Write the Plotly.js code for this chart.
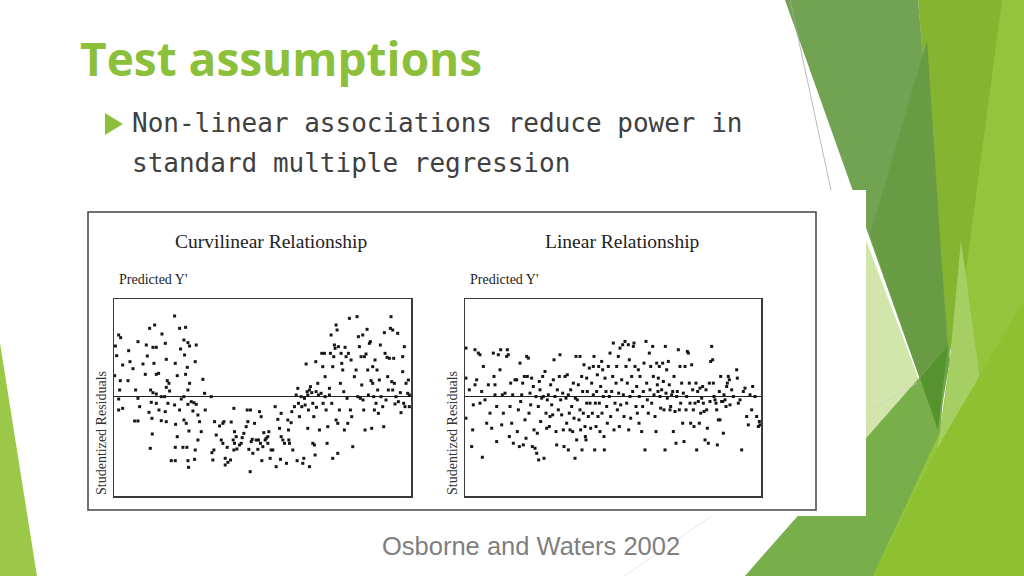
<!DOCTYPE html>
<html>
<head>
<meta charset="utf-8">
<script src="https://cdn.plot.ly/plotly-3.0.1.min.js"></script>
<style>
  html, body { margin: 0; padding: 0; background: #fff; }
  #slide { width: 1024px; height: 576px; }
</style>
</head>
<body>
<div id="slide"></div>
<script>
// predicted Y' (arbitrary units) and studentized residual
const curvilinearPoints = [
  [0.4,1.52],[0.8,1.23],[0.2,0.63],[1.4,1.85],[2.0,1.77],[2.6,0.95],[1.9,0.48],[1.7,0.20],[1.4,-0.07],[1.4,-0.40],
  [2.6,-0.35],[4.4,1.38],[4.8,1.05],[4.2,0.48],[5.7,0.84],[6.5,0.20],[7.2,1.65],[7.2,-0.05],[7.7,-0.30],[6.2,-0.73],
  [7.2,-0.73],[8.7,0.98],[9.4,0.67],[9.7,1.55],[10.0,1.22],[10.7,2.05],[12.2,2.15],[11.7,1.48],[12.7,1.48],[12.0,1.00],
  [12.7,0.67],[13.4,0.70],[11.0,0.20],[11.7,0.12],[12.7,0.08],[11.2,-0.17],[10.5,-0.47],[11.4,-0.65],[10.9,-1.55],[11.5,-1.12],
  [12.7,-0.20],[13.5,-0.40],[14.2,0.00],[14.4,1.88],[15.4,1.60],[15.7,1.12],[16.0,0.48],[16.5,0.40],[15.7,0.28],[16.7,0.17],
  [15.2,0.00],[16.2,-0.20],[15.4,-0.45],[14.2,-0.72],[15.7,-0.75],[18.2,2.42],[18.4,1.00],[19.0,0.63],[19.7,2.05],[20.0,1.43],
  [21.5,2.08],[21.0,1.70],[22.2,1.62],[22.7,1.52],[21.2,1.25],[22.0,0.88],[21.5,0.67],[22.7,0.40],[22.2,0.20],[21.0,0.00],
  [20.2,-0.07],[22.2,-0.23],[23.2,-0.15],[18.2,-0.25],[19.7,-0.40],[21.0,-0.70],[18.5,-0.83],[21.7,-0.80],[22.5,-1.03],[24.7,1.55],
  [24.4,1.05],[24.0,-0.18],[24.7,-0.23],[23.7,-0.43],[25.2,-0.55],[25.7,-0.75],[26.7,0.52],[27.2,0.10],[27.4,-0.40],[26.2,-1.05],
  [25.2,-1.30],[24.4,-1.60],[20.7,-1.52],[21.9,-1.52],[18.4,-1.52],[19.0,-1.20],[17.2,-1.92],[18.4,-1.92],[22.2,-1.92],[22.4,-2.12],
  [24.2,-1.88],
  [29.2,0.00],[29.7,-1.90],[30.2,-0.75],[30.7,-1.15],[30.0,-1.60],[29.4,-1.68],[31.7,-0.88],[32.2,-1.30],[32.7,-0.80],[33.0,-0.75],
  [32.7,-1.40],[33.4,-1.85],[33.4,-2.05],[34.2,-1.97],[35.0,-1.90],[34.0,-1.52],[35.2,-0.76],[36.0,-0.35],[36.2,-1.05],[35.8,-1.30],
  [36.7,-1.20],[36.2,-1.40],[36.0,-1.60],[36.9,-1.57],[37.7,-1.45],[38.2,-1.40],[38.5,-1.23],[39.0,-1.10],[39.7,-0.90],[40.0,-0.40],
  [40.2,-0.75],[41.0,-0.40],[41.2,-1.35],[40.5,-1.58],[41.5,-1.28],[41.7,-1.70],[40.9,-2.25],[42.2,-0.80],[42.7,-1.30],[43.2,-1.58],
  [43.4,-1.30],[43.7,-0.45],[44.2,-0.60],[44.0,-1.40],[44.7,-1.50],[44.4,-1.92],[45.0,-1.08],[45.4,-1.30],[45.7,-1.25],[46.2,-1.20],
  [46.5,-1.05],[46.2,-1.40],[46.9,-1.85],[47.2,-1.60],[47.7,-1.60],[48.4,-0.30],[48.7,-2.10],[49.2,-0.68],[49.7,-0.95],[50.2,-0.50],
  [50.2,-1.20],[50.7,-1.30],[50.0,-1.88],[51.2,-1.40],[51.8,-2.00],[52.2,-0.70],[52.4,-1.00],[52.5,-1.30],[52.7,-1.40],[53.2,-0.78],
  [53.4,-0.45],[53.7,-1.60],[54.2,-0.30],
  [54.7,0.05],[55.2,0.25],[55.4,-0.20],[55.7,-0.60],[55.0,-1.92],[56.2,0.00],[56.4,-0.30],[56.7,-2.00],[57.0,-1.85],[57.2,-0.05],
  [57.4,-0.25],[57.7,0.98],[58.0,0.15],[58.2,0.05],[58.4,-0.40],[58.7,-2.10],[58.2,-0.95],[58.7,0.20],[59.0,0.30],[59.4,0.12],
  [59.7,-0.20],[59.7,-1.40],[60.0,-0.60],[60.2,-1.45],[60.4,-1.75],[60.6,1.05],[60.7,0.15],[60.8,-0.32],[61.2,0.40],[61.4,0.05],
  [61.7,-1.00],[62.2,0.10],[62.4,1.30],[62.7,0.90],[62.8,-0.20],[63.2,1.30],[63.4,0.60],[63.4,0.00],[63.7,-0.40],[64.0,-1.40],
  [64.2,-0.90],[64.7,0.25],[64.7,0.05],[65.0,1.30],[65.2,1.85],[65.4,-0.20],[65.7,0.90],[65.7,-1.85],[66.0,1.20],[66.2,1.55],
  [66.4,1.45],[66.7,2.15],[66.7,-0.70],[67.0,2.00],[67.2,-0.80],[67.2,-1.70],[67.4,1.50],[67.7,-0.40],[68.0,0.40],[68.2,1.30],
  [68.4,1.00],[68.7,0.80],[69.0,0.15],[69.2,-1.00],[69.4,1.48],[69.7,1.20],[70.0,-0.05],[70.2,-0.80],[70.4,1.30],[70.7,2.35],
  [71.0,-0.40],[71.2,1.10],[71.4,-0.60],[71.7,-1.50],[72.2,0.60],[72.7,0.80],[73.0,2.40],[73.2,0.00],[73.4,1.80],[73.7,1.50],
  [74.0,-0.05],[74.2,1.20],[74.4,0.35],[74.7,1.85],[74.8,-0.10],[75.0,-0.40],[75.2,1.20],[75.4,-1.00],[75.7,1.28],[76.0,2.02],
  [76.2,0.80],[76.4,0.05],[76.7,1.60],[77.0,1.65],[77.2,0.48],[77.4,-0.95],[77.7,0.90],[77.7,0.40],[78.0,0.00],[78.2,-0.40],
  [78.4,1.10],[78.7,-0.20],[79.0,0.80],[79.2,0.20],[79.4,-0.50],[79.7,0.50],[80.0,1.55],[80.2,0.00],[80.7,-0.30],[81.0,-0.90],
  [81.2,1.92],[81.4,1.30],[81.7,-0.10],[82.0,1.18],[82.2,0.60],[82.4,0.20],[82.7,1.15],[83.0,2.05],[83.2,2.40],[83.4,0.45],
  [83.7,2.00],[83.7,0.20],[84.0,1.15],[84.2,0.40],[84.4,-0.22],[84.7,0.00],[85.2,1.90],[85.4,-0.15],[86.0,0.12],[86.2,-0.48],
  [86.7,1.20],[86.7,0.75],[87.0,-0.20],[87.2,1.50],[87.4,-0.30],[87.7,0.40],[88.2,0.10],[88.4,0.50],[88.7,0.05],[88.7,-0.30]
];

const linearPoints = [
  [0.3,1.45],[0.3,0.55],[0.3,-0.65],[1.3,0.20],[2.0,-1.50],[2.3,-1.00],[2.5,-0.25],[3.0,1.40],[3.5,0.50],[3.0,0.35],
  [4.0,1.30],[4.5,1.25],[5.0,0.15],[4.5,-0.20],[5.2,-1.82],[5.5,0.90],[6.0,-0.10],[6.5,-0.80],[7.0,0.35],[7.5,-0.50],
  [8.0,-0.95],[8.5,1.30],[8.7,0.60],[9.0,0.35],[9.0,0.05],[9.5,-1.35],[9.5,-0.30],[10.0,1.25],[10.5,0.80],[10.7,1.40],
  [11.0,-0.85],[11.2,0.05],[11.5,-0.50],[12.0,0.10],[12.5,1.20],[12.7,1.40],[13.0,1.25],[13.3,-1.20],[13.5,-0.30],[13.7,0.40],
  [14.0,-0.80],[14.3,0.05],[14.5,-1.40],[15.0,0.50],[15.5,0.50],[15.7,-1.05],[16.0,-0.40],[16.3,-1.50],[16.5,1.00],[16.7,-0.15],
  [17.0,0.05],[17.3,0.40],[17.5,-1.45],[17.8,0.60],[18.0,-0.70],[18.3,-1.25],[18.5,1.20],[18.7,0.60],[19.0,1.15],[19.2,-0.50],
  [19.5,0.10],[19.7,-0.25],[20.0,0.55],[20.2,-1.50],[20.5,0.30],[20.7,-1.00],[21.0,-1.55],[21.3,0.00],[21.5,-1.70],[21.7,-1.10],
  [22.0,-0.30],[22.1,-1.90],[22.3,0.45],[22.5,0.20],[22.7,-0.75],[23.0,-0.05],[23.3,0.60],[23.5,0.00],[23.7,-1.85],[24.0,0.75],
  [24.3,-0.50],[24.5,-0.95],[24.7,-0.10],[25.0,0.05],[25.3,-0.90],[25.5,-0.60],[25.7,0.35],[26.0,-0.25],[26.3,-0.55],[26.5,0.50],
  [26.7,1.10],[27.0,0.00],[27.3,-1.05],[27.5,-1.45],[27.7,0.20],[28.0,-0.40],[28.3,0.60],[28.5,1.25],[28.7,-0.10],[29.0,-0.55],
  [29.3,0.10],[29.5,-1.00],[29.7,-1.50],[30.0,0.60],[30.3,-0.05],[30.5,-0.80],[30.7,0.65],[31.0,0.05],[31.0,-1.60],[31.3,-0.50],
  [31.5,-1.00],[31.7,0.20],[32.0,-0.30],[32.3,-1.05],[32.5,0.40],[32.7,-0.65],[33.0,-1.85],[33.1,-0.05],[33.3,1.20],[33.5,-1.30],
  [33.7,-0.10],[34.0,0.35],[34.2,-0.70],[34.5,1.20],[34.5,-0.40],[34.7,-1.00],[35.0,0.60],[35.1,-1.60],[35.3,0.15],[35.5,-0.50],
  [35.7,0.95],[36.0,-0.90],[36.1,-1.20],[36.3,-1.30],[36.5,0.55],[36.5,-0.20],[36.7,0.15],[37.0,-0.60],[37.3,0.85],[37.5,-0.20],
  [37.7,-0.95],[38.0,0.40],[38.2,-0.50],[38.5,0.90],[38.5,0.05],[38.7,1.20],[38.9,-1.60],[39.1,-0.20],[39.3,-0.90],[39.5,0.15],
  [39.7,0.65],[39.9,-0.60],[40.1,0.90],[40.3,-0.20],[40.5,-1.05],[40.7,0.30],[41.0,1.05],[41.1,-0.50],[41.3,0.80],[41.5,0.00],
  [41.7,-1.20],[41.8,-1.60],[42.0,0.55],[42.3,0.15],[42.5,-0.30],[42.7,-0.80],[43.0,0.90],[43.3,0.00],[43.5,1.30],[43.7,-0.60],
  [44.0,0.15],[44.3,0.60],[44.5,1.60],[44.7,-1.00],[45.0,-0.20],[45.3,0.40],[45.5,0.90],[45.7,-0.40],[46.0,1.20],[46.1,0.10],
  [46.3,-0.90],[46.5,1.45],[46.7,-0.25],[47.0,0.50],[47.3,1.55],[47.5,0.05],[47.7,-0.60],[48.0,1.65],[48.3,0.90],[48.5,-0.20],
  [48.7,0.40],[49.0,1.55],[49.1,-1.00],[49.3,1.10],[49.5,0.00],[49.7,-0.65],[50.0,0.60],[50.3,0.15],[50.5,1.50],[50.7,1.60],
  [51.0,0.90],[51.3,-0.30],[51.5,0.30],[51.7,-0.50],[52.0,0.80],[52.2,-0.80],[52.3,0.00],[52.5,0.60],[53.0,-1.05],[53.3,-0.30],
  [53.5,0.15],[53.7,1.00],[54.0,-1.60],[54.3,1.65],[54.5,0.40],[54.7,-0.10],[55.0,-0.50],[55.3,1.30],[55.5,0.20],[55.7,0.90],
  [56.0,-0.20],[56.3,1.50],[56.5,0.60],[56.7,0.05],[57.0,-0.60],[57.3,-1.05],[57.5,1.00],[57.7,0.35],[57.9,0.15],[58.0,0.55],
  [58.3,0.90],[58.5,0.00],[58.7,-0.35],[59.0,0.20],[59.3,1.00],[59.5,0.45],[59.7,-0.40],[60.0,-1.60],[60.1,1.50],[60.3,0.10],
  [60.5,0.80],[60.7,-0.05],[61.0,1.05],[61.3,0.35],[61.5,-0.40],[61.7,-0.30],[62.0,0.05],[62.3,0.15],[62.5,-1.05],[62.7,0.60],
  [63.0,-0.45],[63.3,-1.40],[63.5,0.00],[63.7,0.15],[64.0,1.40],[64.3,-0.40],[64.5,0.90],[64.7,-0.20],[65.0,0.40],[65.3,-0.80],
  [65.5,0.10],[65.7,-1.35],[66.0,0.90],[66.3,-0.40],[66.5,0.00],[66.7,1.35],[67.0,1.30],[67.3,0.40],[67.5,-0.20],[67.7,-0.80],
  [68.0,0.95],[68.3,0.20],[68.5,-0.40],[68.7,-0.90],[69.0,-0.20],[69.3,0.40],[69.5,-1.60],[69.8,0.15],[70.0,-0.15],[70.3,-0.80],
  [70.5,0.25],[70.7,-0.50],[71.0,-0.05],[71.3,0.30],[71.5,-0.20],[71.7,-0.45],[72.0,-1.30],[72.3,0.20],[72.5,-0.40],[72.7,-0.95],
  [73.0,-1.40],[73.3,0.40],[73.5,-0.15],[73.7,1.05],[74.0,1.50],[74.3,1.10],[74.5,0.40],[74.7,0.00],[75.0,-0.10],[75.3,-0.20],
  [75.5,-0.40],[75.7,-1.45],[76.0,-0.70],[76.3,0.15],[76.5,-0.70],[76.7,0.60],[77.0,-0.15],[77.3,-0.15],[77.5,-1.10],[77.7,0.05],
  [78.0,-0.10],[78.3,-0.30],[78.5,0.30],[78.7,0.40],[79.0,0.60],[79.3,0.50],[79.5,-0.25],[80.0,0.20],[80.5,0.00],[81.5,0.80],
  [81.7,0.55],[82.0,-0.20],[82.5,-0.10],[83.0,-1.60],[83.5,0.15],[84.0,0.25],[84.5,-0.60],[85.0,-0.85],[85.5,0.05],[86.0,-0.40],
  [86.3,0.30],[87.0,0.00],[87.5,-0.60],[88.0,-0.90],[88.3,-0.75],[88.5,-0.85]
];

const panelTitles = ['Curvilinear Relationship', 'Linear Relationship'];
const xLabel = "Predicted Y'";
const yLabel = 'Studentized Residuals';
const slideTitle = 'Test assumptions';
const bulletLines = ['Non-linear associations reduce power in', 'standard multiple regression'];
const citation = 'Osborne and Waters 2002';

// slide pixel -> paper coords (margins are zero so paper == page)
const W = 1024, H = 576;
const px = x => x / W;
const py = y => 1 - y / H;

function poly(pts, color) {
    const d = pts.map((p, i) => (i ? 'L' : 'M') + px(p[0]).toFixed(4) + ',' + py(p[1]).toFixed(4)).join(' ') + ' Z';
    return { type: 'path', xref: 'paper', yref: 'paper', path: d, fillcolor: color, line: { width: 0 }, layer: 'below' };
}
function seg(x0, y0, x1, y1, color, w) {
    return { type: 'line', xref: 'paper', yref: 'paper', x0: px(x0), y0: py(y0), x1: px(x1), y1: py(y1),
             line: { color: color, width: w }, layer: 'below' };
}

const markerStyle = { symbol: 'square', size: 3, color: '#161616', line: { width: 0 } };

const traces = [
    {
        type: 'scatter', mode: 'markers',
        x: curvilinearPoints.map(p => p[0]),
        y: curvilinearPoints.map(p => p[1]),
        marker: markerStyle, xaxis: 'x', yaxis: 'y', hoverinfo: 'skip'
    },
    {
        type: 'scatter', mode: 'markers',
        x: linearPoints.map(p => p[0]),
        y: linearPoints.map(p => p[1]),
        marker: markerStyle, xaxis: 'x2', yaxis: 'y2', hoverinfo: 'skip'
    }
];

const boxAxis = {
    showline: true, mirror: true, linecolor: '#3a3a3a', linewidth: 1.5,
    showgrid: false, showticklabels: false, ticks: '', fixedrange: true
};
const yDomain = [py(496), py(299)];

const shapes = [
    // decorative green facets on the right
    poly([[1000,0],[1024,0],[1024,576],[870,576],[940,430]], '#93C43B'),
    poly([[918,0],[1002,0],[962,300],[948,360]], '#85B430'),
    poly([[785,0],[918,0],[950,360],[938,430]], '#72A352'),
    poly([[927,40],[948,360],[938,430],[870,235]], '#699A44'),
    poly([[866,240],[938,430],[866,455]], '#D2E6AC'),
    poly([[961,240],[980,380],[935,463],[948,380]], '#A6CF63'),
    poly([[745,576],[948,345],[940,432],[873,576]], '#78AF4A'),
    poly([[920,378],[948,345],[938,430]], '#54932E'),
    poly([[873,576],[942,440],[1024,300],[1024,576]], '#8DC131'),
    poly([[0,343],[37,576],[0,576]], '#9CC84A'),
    seg(790, 0, 831, 190, '#a8a8a8', 0.8),
    seg(867, 413, 917, 383, '#c9c9c9', 0.6),
    seg(713, 515, 623, 577, '#d6d6d6', 0.6),
    // white picture panel and frame
    { type: 'rect', xref: 'paper', yref: 'paper', x0: px(80), x1: px(866), y0: py(516), y1: py(190),
      fillcolor: '#ffffff', line: { width: 0 }, layer: 'below' },
    { type: 'rect', xref: 'paper', yref: 'paper', x0: px(88), x1: px(816), y0: py(510), y1: py(212),
      fillcolor: 'rgba(0,0,0,0)', line: { color: '#444', width: 1.5 }, layer: 'below' },
    // bullet marker
    poly([[105,113],[123,124],[105,135]], '#8CC03C')
];

const serif = 'Liberation Serif, Times New Roman, serif';
const mono = 'DejaVu Sans Mono, monospace';
const annotations = [
    { text: slideTitle, x: px(78), y: py(58), xanchor: 'left', yanchor: 'middle',
      font: { family: 'Open Sans, sans-serif', size: 46, color: '#8CBF3A', weight: 'bold' } },
    { text: bulletLines[0], x: px(130), y: py(123), xanchor: 'left', yanchor: 'middle',
      font: { family: mono, size: 26, color: '#404040' } },
    { text: bulletLines[1], x: px(130), y: py(163), xanchor: 'left', yanchor: 'middle',
      font: { family: mono, size: 26, color: '#404040' } },
    { text: panelTitles[0], x: px(271), y: py(241), xanchor: 'center', yanchor: 'middle',
      font: { family: serif, size: 19.5, color: '#222' } },
    { text: panelTitles[1], x: px(622), y: py(241), xanchor: 'center', yanchor: 'middle',
      font: { family: serif, size: 19.5, color: '#222' } },
    { text: xLabel, x: px(117), y: py(279), xanchor: 'left', yanchor: 'middle',
      font: { family: serif, size: 14, color: '#222' } },
    { text: xLabel, x: px(468), y: py(279), xanchor: 'left', yanchor: 'middle',
      font: { family: serif, size: 14, color: '#222' } },
    { text: yLabel, x: px(101), y: py(433), xanchor: 'center', yanchor: 'middle', textangle: -90,
      font: { family: serif, size: 14, color: '#333' } },
    { text: yLabel, x: px(452), y: py(433), xanchor: 'center', yanchor: 'middle', textangle: -90,
      font: { family: serif, size: 14, color: '#333' } },
    { text: citation, x: px(531), y: py(546), xanchor: 'center', yanchor: 'middle',
      font: { family: 'Liberation Sans, Arial, sans-serif', size: 25.5, color: '#7F7F7F' } }
].map(a => Object.assign({ xref: 'paper', yref: 'paper', showarrow: false }, a));

const layout = {
    width: W, height: H,
    margin: { l: 0, r: 0, t: 0, b: 0 },
    paper_bgcolor: '#ffffff',
    plot_bgcolor: 'rgba(0,0,0,0)',
    showlegend: false,
    xaxis: Object.assign({}, boxAxis, { domain: [px(114), px(411)], range: [0, 89.2], zeroline: false }),
    yaxis: Object.assign({}, boxAxis, { domain: yDomain, range: [-2.98, 2.93],
        zeroline: true, zerolinecolor: '#222', zerolinewidth: 1.2 }),
    xaxis2: Object.assign({}, boxAxis, { domain: [px(465), px(761)], range: [0, 88.8], zeroline: false, anchor: 'y2' }),
    yaxis2: Object.assign({}, boxAxis, { domain: yDomain, range: [-2.98, 2.92], anchor: 'x2',
        zeroline: true, zerolinecolor: '#222', zerolinewidth: 1.2 }),
    shapes: shapes,
    annotations: annotations
};

Plotly.newPlot('slide', traces, layout, { displayModeBar: false, staticPlot: true });
</script>
</body>
</html>
